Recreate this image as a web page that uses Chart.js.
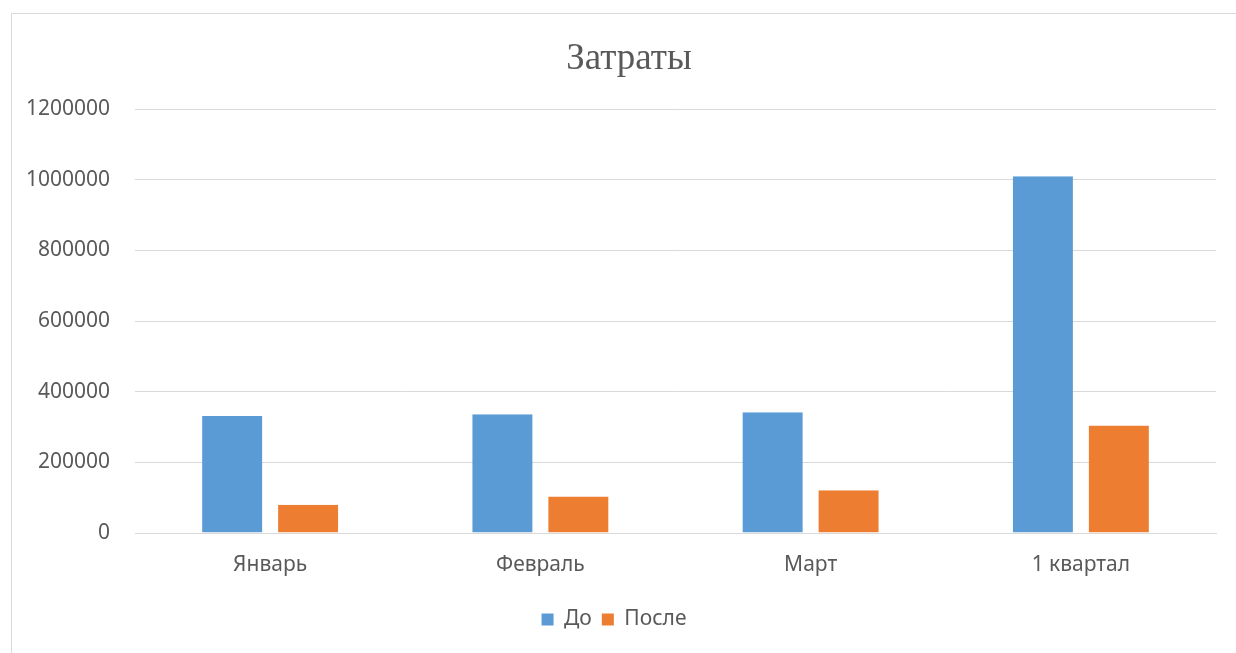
<!DOCTYPE html>
<html>
<head>
<meta charset="utf-8">
<script src="https://cdn.jsdelivr.net/npm/chart.js@4"></script>
<style>
  html, body { margin: 0; padding: 0; background: #fff; overflow: hidden; }
  #frame { position: absolute; left: 11px; top: 13px; width: 1300px; height: 700px; border: 1px solid #d9d9d9; }
  #wrap { position: absolute; left: 0; top: 0; width: 1236px; height: 653px; }
  #title {
    position: absolute; left: 29px; width: 1200px; top: 35px;
    text-align: center; line-height: 44px; margin: 0;
    font-family: 'Liberation Serif', serif; font-size: 37px; font-weight: normal; color: #595959;
  }
</style>
</head>
<body>
<div id="frame"></div>
<div id="wrap"><canvas id="chart"></canvas></div>
<h1 id="title">Затраты</h1>
<script>
"use strict";
// data
const months = ["Январь", "Февраль", "Март", "1 квартал"];
const before = [331000, 336000, 342000, 1010000];
const after = [80000, 103000, 121000, 304000];
const yTicks = [0, 200000, 400000, 600000, 800000, 1000000, 1200000];

const textColor = "#595959";
const gridColor = "#d9d9d9";
const sansFont = "'Noto Sans', 'Open Sans', sans-serif";

function makeDataset(label, values, color) {
    return {
        label: label,
        data: values,
        backgroundColor: color,
        borderColor: "rgba(0,0,0,0)",
        borderWidth: { left: 8, right: 8, top: 0, bottom: 0 },
        borderSkipped: false,
        categoryPercentage: 0.562,
        barPercentage: 1
    };
}

const ctx = document.getElementById("chart");
new Chart(ctx, {
    type: "bar",
    data: {
        labels: months,
        datasets: [
            makeDataset("До", before, "#5b9bd5"),
            makeDataset("После", after, "#ed7d31")
        ]
    },
    options: {
        responsive: true,
        maintainAspectRatio: false,
        animation: false,
        layout: { padding: { top: 109, left: 12, right: 20, bottom: 13 } },
        plugins: {
            title: { display: false },
            legend: {
                position: "bottom",
                labels: {
                    color: textColor,
                    font: { family: sansFont, size: 21 },
                    boxWidth: 12,
                    boxHeight: 12,
                    padding: 10
                }
            },
            tooltip: { enabled: false }
        },
        scales: {
            x: {
                grid: { display: false, drawTicks: false },
                border: { color: gridColor },
                ticks: { color: textColor, font: { family: sansFont, size: 21 }, padding: 19 },
                afterFit: (axis) => { axis.height = 66; }
            },
            y: {
                min: yTicks[0],
                max: yTicks[yTicks.length - 1],
                afterBuildTicks: (axis) => { axis.ticks = yTicks.map(v => ({ value: v })); },
                grid: { color: gridColor, drawTicks: false },
                border: { display: false },
                ticks: {
                    color: textColor,
                    font: { family: sansFont, size: 21 },
                    padding: 25,
                    callback: (value) => String(value)
                },
                afterFit: (axis) => { axis.width = 123; }
            }
        }
    }
});
</script>
</body>
</html>
